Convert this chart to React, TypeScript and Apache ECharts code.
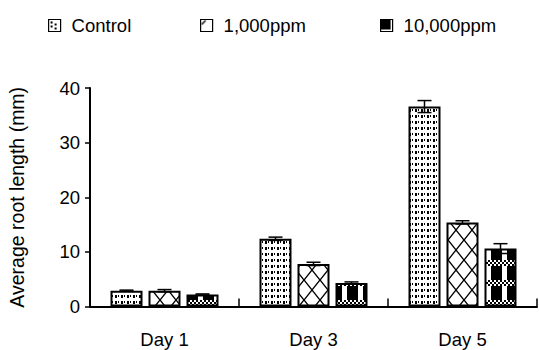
import React, { useEffect, useRef } from "react";
import * as echarts from "echarts";

const categories = ["Day 1", "Day 3", "Day 5"];
const seriesNames = ["Control", "1,000ppm", "10,000ppm"];
const controlValues = [2.9, 12.4, 36.6];
const ppm1000Values = [2.9, 7.8, 15.4];
const ppm10000Values = [2.2, 4.3, 10.6];
const controlErrors = [0.1, 0.3, 1.1];
const ppm1000Errors = [0.2, 0.3, 0.3];
const ppm10000Errors = [0.1, 0.2, 0.9];
const yMin = 0;
const yMax = 40;
const yInterval = 10;

const FONT = 'Arial, "Liberation Sans", sans-serif';
const BAR_W = 32;
const BAR_GAP = 6;

function makeTile(w: number, h: number, draw: (ctx: CanvasRenderingContext2D) => void, bg = "#fff") {
  const c = document.createElement("canvas");
  c.width = w;
  c.height = h;
  const ctx = c.getContext("2d")!;
  ctx.fillStyle = bg;
  ctx.fillRect(0, 0, w, h);
  ctx.fillStyle = "#000";
  ctx.strokeStyle = "#000";
  draw(ctx);
  return { image: c, repeat: "repeat", imageWidth: w, imageHeight: h } as any;
}

function dotsPattern() {
  return makeTile(6, 6, (ctx) => {
    ctx.fillRect(1, 1, 2, 3);
    ctx.fillRect(4, 1, 1, 2);
  });
}

function latticePattern() {
  return makeTile(16, 20, (ctx) => {
    ctx.lineWidth = 1.4;
    ctx.beginPath();
    ctx.moveTo(0, 0);
    ctx.lineTo(16, 20);
    ctx.moveTo(16, 0);
    ctx.lineTo(0, 20);
    ctx.stroke();
  });
}

function checkerPattern() {
  return makeTile(16, 20, (ctx) => {
    for (let y = 0; y < 6; y += 2) {
      for (let x = 0; x < 16; x += 2) {
        if (((x + y) / 2) % 2 === 0) ctx.fillRect(x, y, 2, 2);
      }
    }
    ctx.fillRect(0, 6, 6, 14);
    ctx.fillRect(11, 6, 5, 14);
  });
}

function legendIcon(i: number) {
  if (i === 0) {
    return makeTile(12, 12, (ctx) => {
      ctx.fillRect(2, 2, 2, 2);
      ctx.fillRect(2, 6, 2, 2);
      ctx.fillRect(6, 4, 2, 2);
      ctx.fillRect(6, 8, 2, 2);
    });
  }
  if (i === 1) {
    return makeTile(12, 12, (ctx) => {
      ctx.lineWidth = 1.5;
      ctx.beginPath();
      ctx.moveTo(1, 5);
      ctx.lineTo(5, 1);
      ctx.stroke();
    });
  }
  return makeTile(12, 12, (ctx) => {
    ctx.fillRect(0, 0, 10, 10);
  });
}

export default function App() {
  const ref = useRef<HTMLDivElement>(null);

  useEffect(() => {
    if (!ref.current) return;
    const chart = echarts.init(ref.current, null, { renderer: "svg" });
    const patterns = [dotsPattern(), latticePattern(), checkerPattern()];
    const values = [controlValues, ppm1000Values, ppm10000Values];
    const errors = [controlErrors, ppm1000Errors, ppm10000Errors];

    const errData: number[][] = [];
    values.forEach((vals, s) => {
      vals.forEach((v, ci) => {
        errData.push([ci, v, errors[s][ci], s]);
      });
    });

    const legendLefts = [48, 200, 380];

    chart.setOption({
      animation: false,
      backgroundColor: "#fff",
      textStyle: { fontFamily: FONT },
      legend: seriesNames.map((n, i) => ({
        show: true,
        left: legendLefts[i],
        top: 16,
        padding: 0,
        itemWidth: 12,
        itemHeight: 12,
        icon: "rect",
        selectedMode: false,
        data: [
          {
            name: n,
            itemStyle: { color: legendIcon(i), borderColor: "#000", borderWidth: 1.2 },
          },
        ],
        textStyle: {
          fontFamily: FONT,
          fontSize: 18.5,
          color: "#000",
          padding: [0, 0, 0, 6],
        },
      })),
      grid: {
        left: 90,
        right: 2,
        top: 88,
        bottom: 43.5,
        containLabel: false,
        outerBoundsMode: "none",
      },
      xAxis: {
        type: "category",
        data: categories,
        boundaryGap: true,
        axisLine: { show: true, lineStyle: { color: "#000", width: 2 } },
        axisTick: {
          show: true,
          inside: true,
          length: 8,
          alignWithLabel: false,
          lineStyle: { color: "#000", width: 1.5 },
        },
        axisLabel: {
          margin: 23,
          fontFamily: FONT,
          fontSize: 18.5,
          color: "#000",
        },
        splitLine: { show: false },
      },
      yAxis: {
        type: "value",
        min: yMin,
        max: yMax,
        interval: yInterval,
        name: "Average root length (mm)",
        nameLocation: "middle",
        nameGap: 63,
        nameTextStyle: { fontFamily: FONT, fontSize: 19.5, color: "#000" },
        axisLine: { show: true, lineStyle: { color: "#000", width: 2 } },
        axisTick: { show: true, length: 5, lineStyle: { color: "#000", width: 1.5 } },
        axisLabel: { margin: 10, fontFamily: FONT, fontSize: 18.5, color: "#000" },
        splitLine: { show: false },
      },
      series: [
        ...seriesNames.map((n, i) => ({
          name: n,
          type: "bar",
          data: values[i],
          barWidth: BAR_W,
          barGap: `${(BAR_GAP / BAR_W) * 100}%`,
          itemStyle: { color: patterns[i], borderColor: "#000", borderWidth: 2 },
          emphasis: { disabled: true },
        })),
        {
          name: "errors",
          type: "custom",
          data: errData,
          encode: { x: 0, y: 1 },
          z: 10,
          silent: true,
          renderItem: (params: any, api: any) => {
            const ci = api.value(0);
            const v = api.value(1);
            const e = api.value(2);
            const s = api.value(3);
            const off = (s - 1) * (BAR_W + BAR_GAP);
            const top = api.coord([ci, v + e]);
            const bot = api.coord([ci, v - e]);
            const x = top[0] + off;
            const half = 7;
            const st = { stroke: "#000", lineWidth: 1.5 };
            return {
              type: "group",
              children: [
                { type: "line", shape: { x1: x, y1: top[1], x2: x, y2: bot[1] }, style: st },
                { type: "line", shape: { x1: x - half, y1: top[1], x2: x + half, y2: top[1] }, style: st },
                { type: "line", shape: { x1: x - half, y1: bot[1], x2: x + half, y2: bot[1] }, style: st },
              ],
            };
          },
        },
      ],
    } as any);

    return () => chart.dispose();
  }, []);

  return <div ref={ref} style={{ width: 539, height: 350, position: "absolute", left: 0, top: 0 }} />;
}
